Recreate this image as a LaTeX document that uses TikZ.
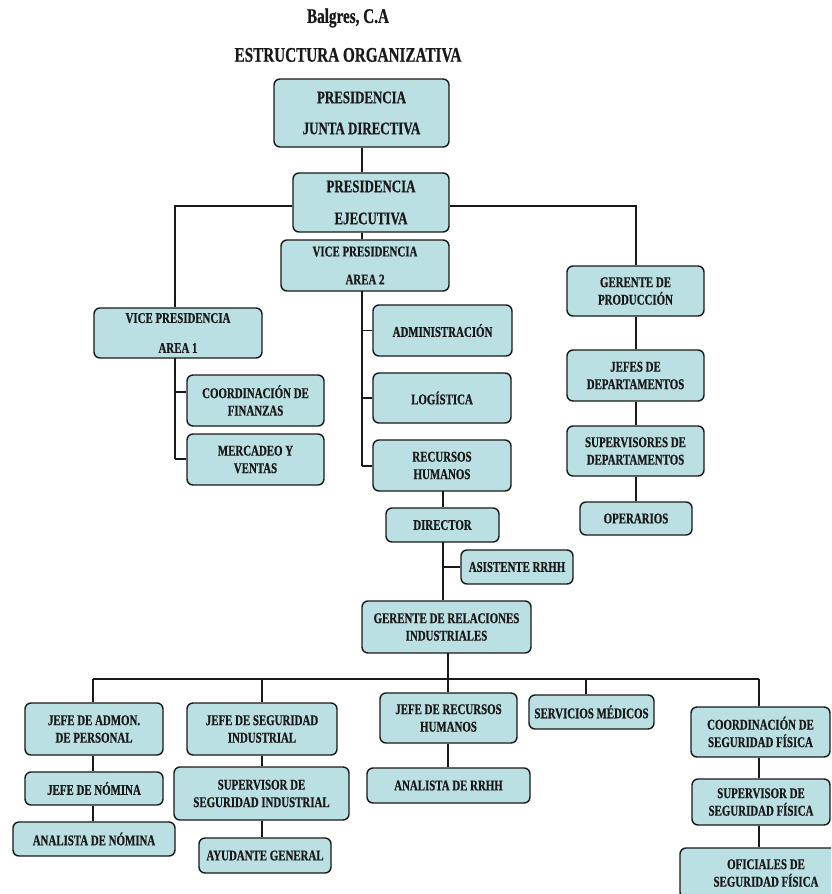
\documentclass[tikz,border=0pt]{standalone}
\usepackage{fontspec}
\setmainfont{Liberation Serif}[FakeStretch=0.73, BoldFeatures={FakeBold=0.6}]
\definecolor{boxfill}{RGB}{187,224,228}
\definecolor{ink}{RGB}{25,25,25}
\tikzset{
  orgbox/.style={draw=ink, line width=1.4pt, fill=boxfill, rounded corners=6pt,
    inner sep=0pt, align=center, text=ink,
    font=\bfseries\fontsize{14.9}{17.5}\selectfont},
  bigtext/.style={font=\bfseries\fontsize{17.7}{20}\selectfont},
  link/.style={draw=ink, line width=1.3pt},
  titletext/.style={font=\bfseries\fontsize{20.8}{24}\selectfont, text=ink, inner sep=0pt}
}
\newcommand{\bx}[7]{% name, x1, x2, y1, y2, options, text
  \node[orgbox, #6, minimum width={#3pt-#2pt}, minimum height={#5pt-#4pt}] (#1) at ({(#2+#3)/2},{(#4+#5)/2}) {#7};}
\begin{document}
\begin{tikzpicture}[x=1pt, y=-1pt]
\useasboundingbox (0,0) rectangle (831,894);
\clip (0,0) rectangle (831,894);
\fill[white] (0,0) rectangle (831,894);

\node[titletext] (t1) at (348,18) {Balgres, C.A};
\node[titletext] (t2) at (348,55) {ESTRUCTURA ORGANIZATIVA};

\coordinate (pv) at (362,147);
\coordinate (hl) at (175,206);
\coordinate (hr) at (636,206);
\coordinate (v2t) at (362,291);
\coordinate (v2b) at (362,466);
\coordinate (v1t) at (175,358);
\coordinate (v1b) at (175,459);
\coordinate (cfb) at (175,392);
\coordinate (dt) at (443,491);
\coordinate (db) at (443,542);
\coordinate (gt) at (448,653);
\coordinate (bl) at (93,679);
\coordinate (br) at (759,679);
\coordinate (bm1) at (262,679);
\coordinate (bm2) at (586,679);
\coordinate (bm3) at (448,679);

% boxes
\bx{pjd}{274}{449}{79}{147}{bigtext}{PRESIDENCIA\\[11pt]JUNTA DIRECTIVA}
\bx{pe}{293}{449}{173}{232}{bigtext}{PRESIDENCIA\\[12pt]EJECUTIVA}
\bx{vp2}{281}{449}{240}{291}{}{VICE PRESIDENCIA\\[10.5pt]AREA 2}
\bx{vp1}{94}{262}{308}{358}{}{VICE PRESIDENCIA\\[12.5pt]AREA 1}
\bx{adm}{373}{512}{305}{356}{}{ADMINISTRACIÓN}
\bx{log}{373}{511}{373}{423}{}{LOGÍSTICA}
\bx{rh}{373}{511}{440}{491}{}{RECURSOS\\HUMANOS}
\bx{dir}{386}{499}{508}{542}{}{DIRECTOR}
\bx{asis}{461}{573}{550}{584}{}{ASISTENTE RRHH}
\bx{gri}{362}{531}{601}{653}{}{GERENTE DE RELACIONES\\INDUSTRIALES}
\bx{cf}{187}{324}{375}{426}{}{COORDINACIÓN DE\\FINANZAS}
\bx{mv}{187}{324}{434}{485}{}{MERCADEO Y\\VENTAS}
\bx{gp}{567}{704}{266}{316}{}{GERENTE DE\\PRODUCCIÓN}
\bx{jd}{567}{704}{350}{401}{}{JEFES DE\\DEPARTAMENTOS}
\bx{sd}{567}{704}{426}{476}{}{SUPERVISORES DE\\DEPARTAMENTOS}
\bx{op}{580}{692}{502}{535}{}{OPERARIOS}
\bx{jap}{25}{163}{703}{755}{}{JEFE DE ADMON.\\DE PERSONAL}
\bx{jn}{25}{163}{772}{805}{}{JEFE DE NÓMINA}
\bx{an}{13}{175}{822}{856}{}{ANALISTA DE NÓMINA}
\bx{jsi}{187}{337}{703}{755}{}{JEFE DE SEGURIDAD\\INDUSTRIAL}
\bx{ssi}{174}{349}{767}{820}{}{SUPERVISOR DE\\SEGURIDAD INDUSTRIAL}
\bx{ag}{199}{331}{838}{873}{}{AYUDANTE GENERAL}
\bx{jrh}{380}{517}{693}{743}{}{JEFE DE RECURSOS\\HUMANOS}
\bx{arh}{367}{530}{768}{803}{}{ANALISTA DE RRHH}
\bx{sm}{529}{654}{695}{729}{}{SERVICIOS MÉDICOS}
\bx{csf}{691}{830}{707}{757}{}{COORDINACIÓN DE\\SEGURIDAD FÍSICA}
\bx{ssf}{692}{830}{779}{825}{}{SUPERVISOR DE\\SEGURIDAD FÍSICA}
\bx{osf}{680}{852}{848}{898}{}{OFICIALES DE\\SEGURIDAD FÍSICA}

% connectors
\path[link] (pjd.south -| pv) -- (pv |- pe.north);
\path[link] (pv |- pe.south) -- (pv |- vp2.north);
\path[link] (pe.west |- hl) -- (hl) -- (hl |- vp1.north);
\path[link] (pe.east |- hr) -- (hr) -- (hr |- gp.north);
\path[link] (v2t) -- (v2b);
\path[link] (v2t |- adm.west) -- (adm.west);
\path[link] (v2t |- log.west) -- (log.west);
\path[link] (v2b) -- (v2b -| rh.west);
\path[link] (v1t) -- (v1b);
\path[link] (cfb) -- (cfb -| cf.west);
\path[link] (v1b) -- (v1b -| mv.west);
\path[link] (dt) -- (dt |- dir.north);
\path[link] (db) -- (db |- gri.north);
\path[link] (db |- asis.west) -- (asis.west);
\path[link] (gt) -- (gt |- jrh.north);
\path[link] (bl) -- (br);
\path[link] (bl) -- (bl |- jap.north);
\path[link] (bm1) -- (bm1 |- jsi.north);
\path[link] (bm2) -- (bm2 |- sm.north);
\path[link] (br) -- (br |- csf.north);
\path[link] (bl |- jap.south) -- (bl |- jn.north);
\path[link] (bl |- jn.south) -- (bl |- an.north);
\path[link] (bm1 |- jsi.south) -- (bm1 |- ssi.north);
\path[link] (bm1 |- ssi.south) -- (bm1 |- ag.north);
\path[link] (bm3 |- jrh.south) -- (bm3 |- arh.north);
\path[link] (br |- csf.south) -- (br |- ssf.north);
\path[link] (br |- ssf.south) -- (br |- osf.north);
\path[link] (hr |- gp.south) -- (hr |- jd.north);
\path[link] (hr |- jd.south) -- (hr |- sd.north);
\path[link] (hr |- sd.south) -- (hr |- op.north);
\end{tikzpicture}
\end{document}
